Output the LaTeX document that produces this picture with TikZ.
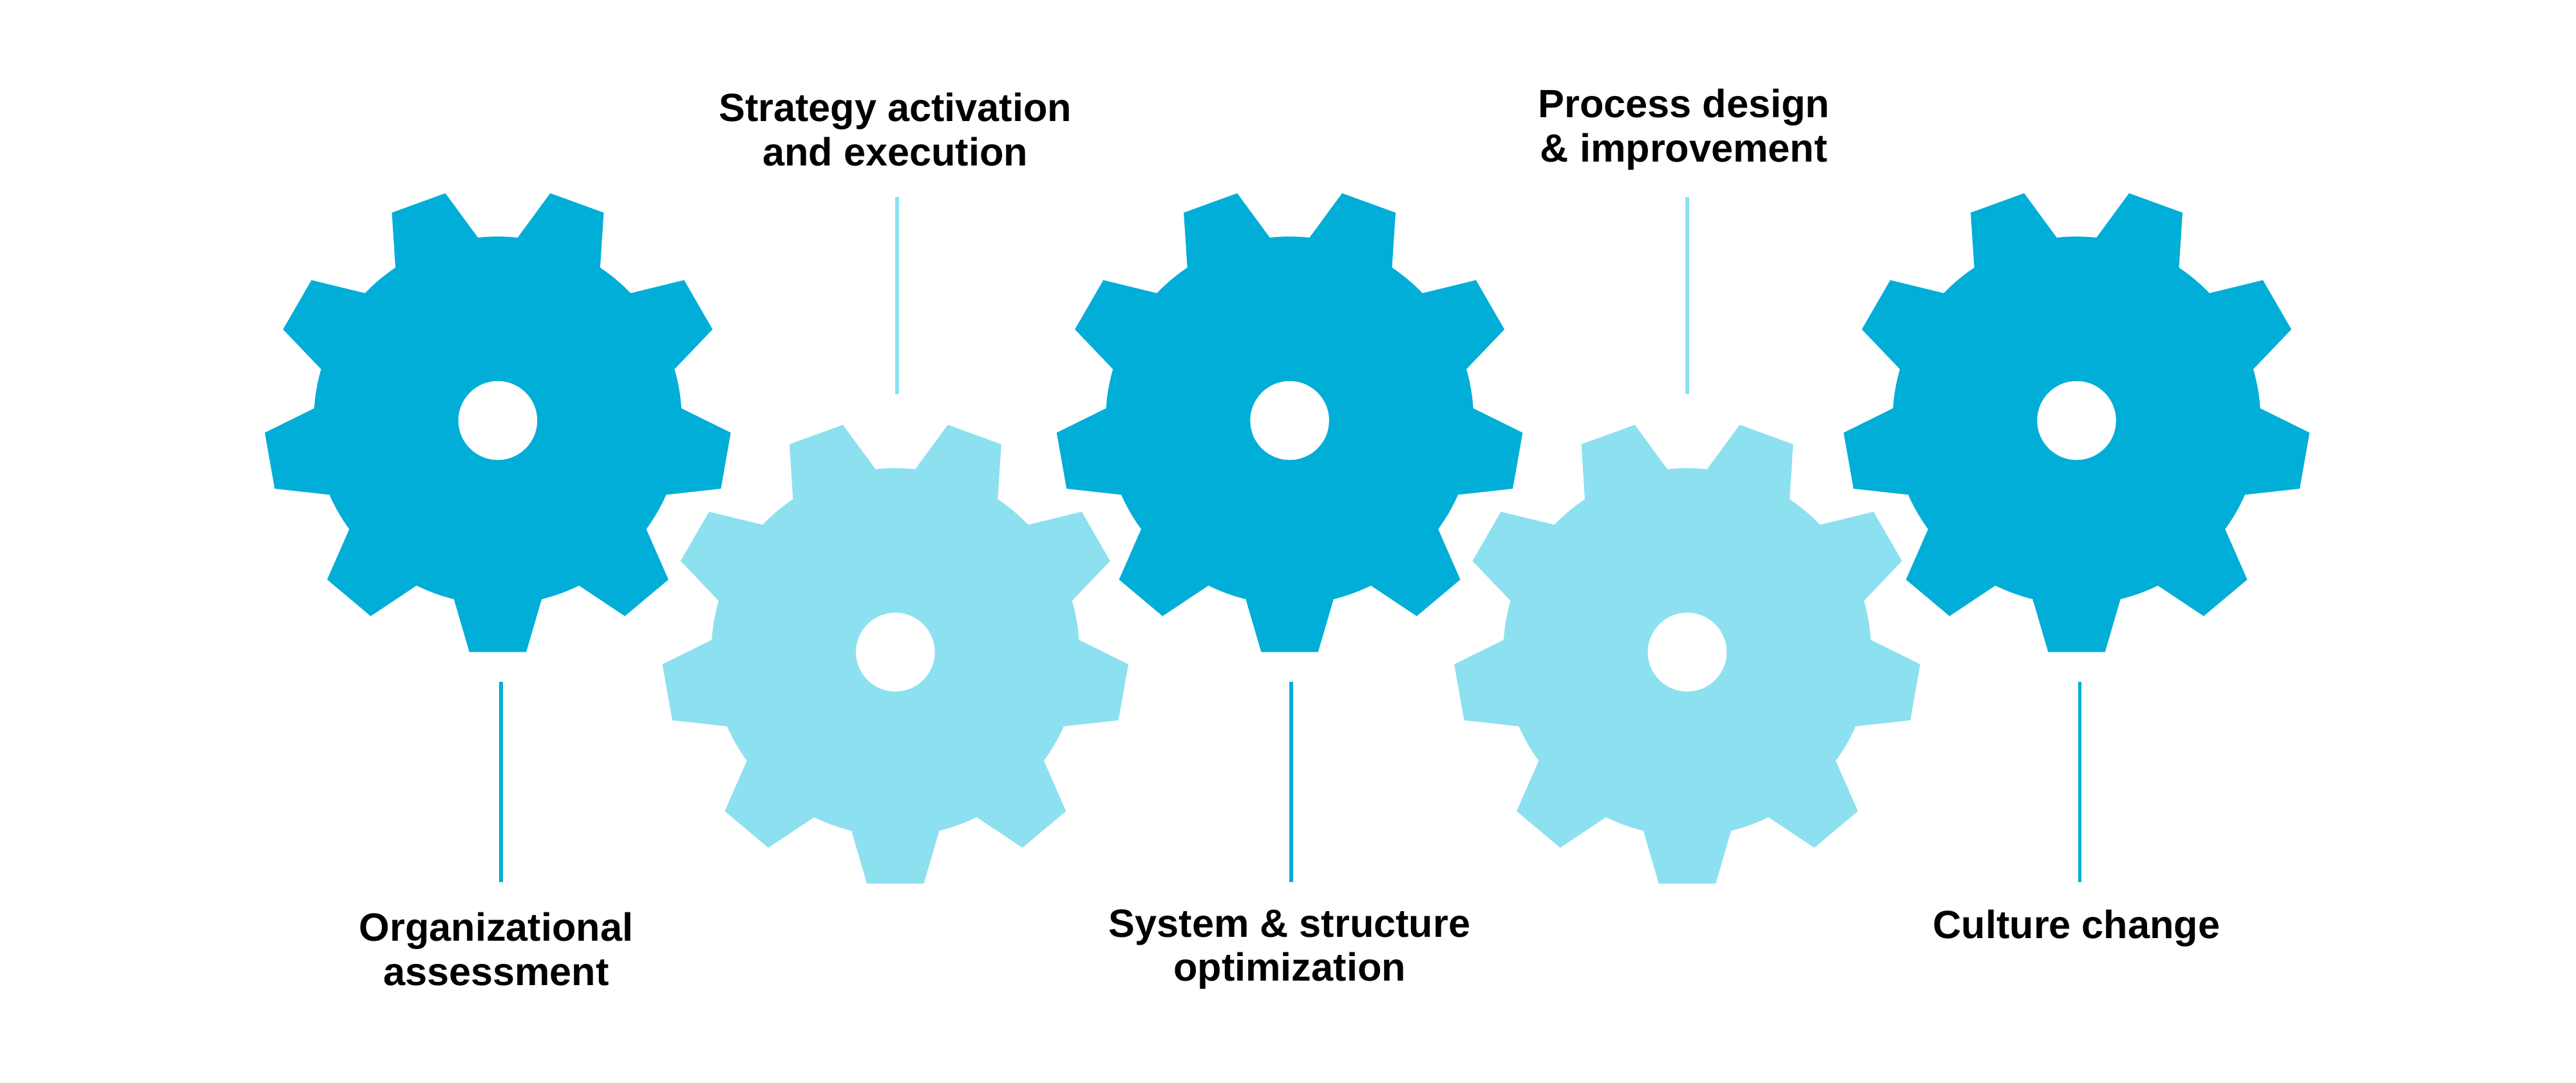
\documentclass[tikz,border=0pt]{standalone}
\usepackage{fontspec}
\setmainfont{Liberation Sans}
\definecolor{gdark}{HTML}{00AED8}
\definecolor{glight}{HTML}{8DE0F0}
\tikzset{
  lbl/.style={font=\fontsize{24}{27}\selectfont\bfseries, align=center, text=black},
  conn/.style={line width=2.2pt},
  pics/gear/.style={code={
    \fill[#1] (90-13.8:112)
      \foreach \i in {0,...,8}{
        -- ({90+40*\i-13.8}:112) -- ({90+40*\i-7}:142) -- ({90+40*\i+7}:142) -- ({90+40*\i+13.8}:112)
        arc[start angle={90+40*\i+13.8}, end angle={90+40*(\i+1)-13.8}, radius=112]
      } -- cycle;
    \fill[white] (0,0) circle[radius=24];
  }}
}
\begin{document}
\begin{tikzpicture}[x=1pt,y=-1pt]
\useasboundingbox (0,0) rectangle (1568,659);
\pic at (303,256) {gear=gdark};
\pic at (785,256) {gear=gdark};
\pic at (1264,256) {gear=gdark};
\pic at (545,397) {gear=glight};
\pic at (1027,397) {gear=glight};
\node[lbl] (l1) at (302,578) {Organizational\\assessment};
\node[lbl] (l2) at (545,79) {Strategy activation\\and execution};
\node[lbl] (l3) at (785,578) {System \& structure\\optimization};
\node[lbl] (l4) at (1025,79) {Process design\\\& improvement};
\node[lbl] (l5) at (1264,565) {Culture change};
\coordinate (a1) at (305,415); \coordinate (b1) at (305,537);
\coordinate (a3) at (786,415); \coordinate (b3) at (786,537);
\coordinate (a5) at (1266,415); \coordinate (b5) at (1266,537);
\coordinate (a2) at (546,120); \coordinate (b2) at (546,240);
\coordinate (a4) at (1027,120); \coordinate (b4) at (1027,240);
\draw[conn,gdark] (a1)--(b1); \draw[conn,gdark] (a3)--(b3); \draw[conn,gdark] (a5)--(b5);
\draw[conn,glight] (a2)--(b2); \draw[conn,glight] (a4)--(b4);
\end{tikzpicture}
\end{document}
